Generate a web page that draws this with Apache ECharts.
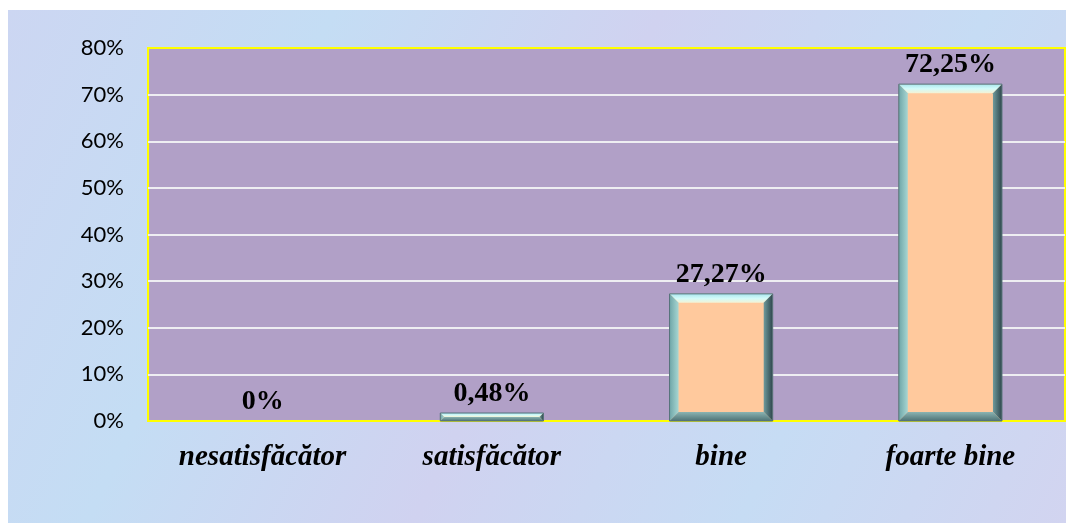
<!DOCTYPE html>
<html>
<head>
<meta charset="utf-8">
<script src="https://cdn.jsdelivr.net/npm/echarts@6/dist/echarts.min.js"></script>
<style>
html,body{margin:0;padding:0;background:#ffffff;width:1066px;height:523px;overflow:hidden;}
#chart{position:absolute;left:8px;top:10px;width:1058px;height:513px;}
</style>
</head>
<body>
<div id="chart"></div>
<script>
const categories = ['nesatisfăcător', 'satisfăcător', 'bine', 'foarte bine'];
const values = [0, 0.48, 27.27, 72.25];
const yTicks = { min: 0, max: 80, interval: 10 };

function fmt(v) { return String(v).replace('.', ',') + '%'; }

const chart = echarts.init(document.getElementById('chart'));

function renderBevelBar(params, api) {
  const idx = api.value(0);
  const v = api.value(1);
  const base = api.coord([idx, 0]);
  const topP = api.coord([idx, v]);
  const bw = api.size([1, 0])[0] * 0.45;
  const cx = base[0];
  const children = [];
  let h = base[1] - topP[1];
  let y0 = base[1];
  if (v > 0) {
    h = Math.max(h, 8);
    const x0 = cx - bw / 2, x1 = cx + bw / 2;
    const y1 = base[1];
    y0 = y1 - h;
    const b = Math.min(9, h / 2);
    children.push({ type: 'rect', shape: { x: x0, y: y0, width: bw, height: h },
      style: { fill: '#FFC99D' } });
    children.push({ type: 'polygon', shape: { points: [[x0, y0], [x1, y0], [x1 - b, y0 + b], [x0 + b, y0 + b]] },
      style: { fill: new echarts.graphic.LinearGradient(0, 0, 0, 1, [
        { offset: 0, color: '#A9E6EC' }, { offset: 0.5, color: '#D2FBFA' }, { offset: 1, color: '#F4F2D4' }]) } });
    children.push({ type: 'polygon', shape: { points: [[x0, y0], [x0 + b, y0 + b], [x0 + b, y1 - b], [x0, y1]] },
      style: { fill: new echarts.graphic.LinearGradient(0, 0, 1, 0, [
        { offset: 0, color: '#6FA6A8' }, { offset: 1, color: '#A7D6D2' }]) } });
    children.push({ type: 'polygon', shape: { points: [[x1, y0], [x1, y1], [x1 - b, y1 - b], [x1 - b, y0 + b]] },
      style: { fill: new echarts.graphic.LinearGradient(0, 0, 1, 0, [
        { offset: 0, color: '#6E9A9C' }, { offset: 1, color: '#2E464C' }]) } });
    children.push({ type: 'polygon', shape: { points: [[x0, y1], [x0 + b, y1 - b], [x1 - b, y1 - b], [x1, y1]] },
      style: { fill: new echarts.graphic.LinearGradient(0, 0, 0, 1, [
        { offset: 0, color: '#8AB4B2' }, { offset: 1, color: '#4E7276' }]) } });
    children.push({ type: 'rect', shape: { x: x0, y: y0, width: bw, height: h },
      style: { fill: 'none', stroke: '#55727a', lineWidth: 1 } });
  }
  children.push({ type: 'text', style: {
    text: fmt(v), x: cx, y: y0 - 5, align: 'center', verticalAlign: 'bottom',
    fill: '#000000', font: 'bold 28px "Liberation Serif", "Times New Roman", serif' } });
  return { type: 'group', children: children };
}

chart.setOption({
  backgroundColor: new echarts.graphic.LinearGradient(0, 0, 1, 1, [
    { offset: 0, color: '#CCD6F2' },
    { offset: 0.25, color: '#C4DDF4' },
    { offset: 0.5, color: '#D0D2F0' },
    { offset: 0.75, color: '#C6DCF4' },
    { offset: 1, color: '#D2D4F0' }
  ]),
  animation: false,
  grid: {
    left: 140, right: 1, top: 38, bottom: 102,
    show: true, backgroundColor: '#B1A0C7', borderColor: '#FFFF00', borderWidth: 2
  },
  xAxis: {
    type: 'category',
    data: categories,
    axisLine: { show: false },
    axisTick: { show: false },
    axisLabel: {
      color: '#000', margin: 22, fontSize: 29,
      fontFamily: '"Liberation Serif", "Times New Roman", serif',
      fontWeight: 'bold', fontStyle: 'italic'
    }
  },
  yAxis: {
    type: 'value',
    min: yTicks.min, max: yTicks.max, interval: yTicks.interval,
    axisLine: { show: false },
    axisTick: { show: false },
    axisLabel: { color: '#000', fontSize: 22, fontFamily: 'Lato, "Open Sans", sans-serif', margin: 24,
      formatter: '{value}%' },
    splitLine: { showMinLine: false, showMaxLine: false, lineStyle: { color: '#EEEEF2', width: 2 } }
  },
  series: [{
    type: 'custom',
    renderItem: renderBevelBar,
    data: values.map((v, i) => [i, v]),
    encode: { x: 0, y: 1 },
    z: 5
  }]
});
</script>
</body>
</html>
